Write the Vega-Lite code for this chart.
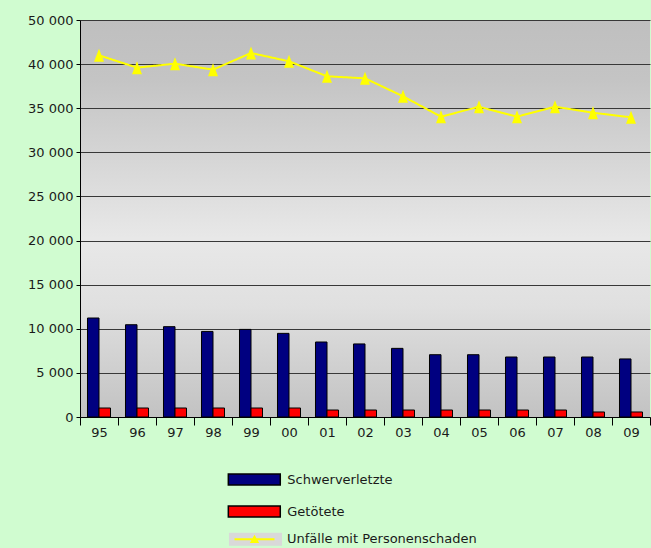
{
  "$schema": "https://vega.github.io/schema/vega-lite/v6.json",
  "width": 570,
  "height": 397,
  "autosize": {"type": "none"},
  "padding": {"left": 80, "top": 20, "right": 1, "bottom": 131},
  "background": "#d0fcd0",
  "config": {
    "font": "DejaVu Sans",
    "view": {
      "stroke": null,
      "fill": {"gradient": "linear", "x1": 0, "y1": 0, "x2": 0, "y2": 1,
        "stops": [
          {"offset": 0, "color": "#bfbfbf"},
          {"offset": 0.15, "color": "#c4c4c4"},
          {"offset": 0.55, "color": "#e8e8e8"},
          {"offset": 0.72, "color": "#e0e0e0"},
          {"offset": 1, "color": "#c2c2c2"}
        ]}
    },
    "axis": {"labelFont": "DejaVu Sans", "labelFontSize": 13, "labelColor": "#1a1a1a", "domainColor": "#000000", "tickColor": "#000000"}
  },
  "datasets": {
    "bars": [
      {"Jahr": "95", "Serie": "Schwerverletzte", "Wert": 11220},
      {"Jahr": "96", "Serie": "Schwerverletzte", "Wert": 10460},
      {"Jahr": "97", "Serie": "Schwerverletzte", "Wert": 10240},
      {"Jahr": "98", "Serie": "Schwerverletzte", "Wert": 9700},
      {"Jahr": "99", "Serie": "Schwerverletzte", "Wert": 9930},
      {"Jahr": "00", "Serie": "Schwerverletzte", "Wert": 9480},
      {"Jahr": "01", "Serie": "Schwerverletzte", "Wert": 8500},
      {"Jahr": "02", "Serie": "Schwerverletzte", "Wert": 8280},
      {"Jahr": "03", "Serie": "Schwerverletzte", "Wert": 7780},
      {"Jahr": "04", "Serie": "Schwerverletzte", "Wert": 7060},
      {"Jahr": "05", "Serie": "Schwerverletzte", "Wert": 7060},
      {"Jahr": "06", "Serie": "Schwerverletzte", "Wert": 6800},
      {"Jahr": "07", "Serie": "Schwerverletzte", "Wert": 6800},
      {"Jahr": "08", "Serie": "Schwerverletzte", "Wert": 6800},
      {"Jahr": "09", "Serie": "Schwerverletzte", "Wert": 6580},
      {"Jahr": "95", "Serie": "Getötete", "Wert": 1020},
      {"Jahr": "96", "Serie": "Getötete", "Wert": 1020},
      {"Jahr": "97", "Serie": "Getötete", "Wert": 1020},
      {"Jahr": "98", "Serie": "Getötete", "Wert": 1020},
      {"Jahr": "99", "Serie": "Getötete", "Wert": 1020},
      {"Jahr": "00", "Serie": "Getötete", "Wert": 1020},
      {"Jahr": "01", "Serie": "Getötete", "Wert": 790},
      {"Jahr": "02", "Serie": "Getötete", "Wert": 790},
      {"Jahr": "03", "Serie": "Getötete", "Wert": 790},
      {"Jahr": "04", "Serie": "Getötete", "Wert": 790},
      {"Jahr": "05", "Serie": "Getötete", "Wert": 790},
      {"Jahr": "06", "Serie": "Getötete", "Wert": 790},
      {"Jahr": "07", "Serie": "Getötete", "Wert": 790},
      {"Jahr": "08", "Serie": "Getötete", "Wert": 570},
      {"Jahr": "09", "Serie": "Getötete", "Wert": 570}
    ],
    "line": [
      {"Jahr": "95", "Wert": 41000},
      {"Jahr": "96", "Wert": 39600},
      {"Jahr": "97", "Wert": 40050},
      {"Jahr": "98", "Wert": 39370},
      {"Jahr": "99", "Wert": 41260},
      {"Jahr": "00", "Wert": 40320},
      {"Jahr": "01", "Wert": 38620},
      {"Jahr": "02", "Wert": 38390},
      {"Jahr": "03", "Wert": 36350},
      {"Jahr": "04", "Wert": 34040},
      {"Jahr": "05", "Wert": 35170},
      {"Jahr": "06", "Wert": 34040},
      {"Jahr": "07", "Wert": 35170},
      {"Jahr": "08", "Wert": 34490},
      {"Jahr": "09", "Wert": 33970}
    ]
  },
  "layer": [
    {
      "data": {"name": "bars"},
      "mark": {"type": "bar", "stroke": "#000000", "strokeWidth": 1},
      "encoding": {
        "x": {"field": "Jahr", "type": "ordinal", "sort": null,
          "scale": {"paddingInner": 0, "paddingOuter": 0},
          "axis": {"title": null, "labelAngle": 0, "tickBand": "extent", "tickSize": 8, "labelPadding": 1, "grid": false}},
        "xOffset": {"field": "Serie", "type": "nominal", "sort": ["Schwerverletzte", "Getötete"],
          "scale": {"paddingInner": 0, "paddingOuter": 0.65}},
        "y": {"field": "Wert", "type": "quantitative",
          "scale": {"domain": [0, 45000], "nice": false},
          "axis": {"title": null, "values": [0, 5000, 10000, 15000, 20000, 25000, 30000, 35000, 40000, 45000],
            "labelExpr": "datum.value == 45000 ? '50 000' : replace(format(datum.value, ','), ',', ' ')",
            "grid": true, "gridColor": "#383838", "gridWidth": 1, "tickSize": 4, "labelPadding": 3}},
        "color": {"field": "Serie", "type": "nominal",
          "scale": {"domain": ["Schwerverletzte", "Getötete"], "range": ["#000080", "#ff0000"]},
          "legend": {"title": null, "orient": "none", "legendX": 167.3, "legendY": 452.5, "padding": 0,
            "symbolType": "M-4.33,-0.92H4.33V0.92H-4.33Z", "symbolSize": 144,
            "symbolStrokeColor": "#000000", "symbolStrokeWidth": 1.5, "symbolOpacity": 1,
            "labelOffset": 26, "labelFontSize": 13, "labelColor": "#1a1a1a", "labelFont": "DejaVu Sans",
            "rowPadding": 14}}
      }
    },
    {
      "data": {"name": "line"},
      "mark": {"type": "line", "strokeWidth": 2,
        "point": {"shape": "M0,-1.3L1,1.3L-1,1.3Z", "size": 100, "filled": true, "opacity": 1}},
      "encoding": {
        "x": {"field": "Jahr", "type": "ordinal", "sort": null},
        "y": {"field": "Wert", "type": "quantitative"},
        "strokeDash": {"datum": "Kasten",
          "scale": {"range": [[1, 0]]},
          "legend": {"title": null, "orient": "none", "legendX": 169, "legendY": 512.7, "padding": 0, "zindex": 0,
            "symbolType": "M-4.42,-1.08H4.42V1.08H-4.42Z", "symbolSize": 144, "symbolStrokeWidth": 0,
            "symbolFillColor": "#d9d9d9", "symbolOpacity": 1, "labelExpr": "''", "labelFontSize": 13,
            "encode": {
              "symbols": {"update": {"fill": {"value": "#d9d9d9"}, "stroke": {"value": "transparent"}, "strokeWidth": {"value": 0}, "strokeDash": {"value": [1, 0]}}}
            }}},
        "color": {"datum": "Unfälle mit Personenschaden",
          "scale": {"range": ["#ffff00"]},
          "legend": {"title": null, "orient": "none", "legendX": 168, "legendY": 512.7, "padding": 0, "zindex": 1,
            "symbolType": "M-3.33,-0.17H3.33V0.17H-3.33Z M-0.78,0.63L0,-0.75L0.78,0.63Z",
            "symbolSize": 144, "symbolStrokeWidth": 0,
            "symbolFillColor": "#ffff00", "symbolOpacity": 1,
            "labelOffset": 26, "labelLimit": 400, "labelFontSize": 13, "labelColor": "#1a1a1a", "labelFont": "DejaVu Sans",
            "encode": {
              "symbols": {"update": {"fill": {"value": "#ffff00"}, "stroke": {"value": "transparent"}, "strokeWidth": {"value": 0}}}
            }}}
      }
    }
  ],
  "resolve": {"scale": {"color": "independent"}, "legend": {"color": "independent"}}
}
